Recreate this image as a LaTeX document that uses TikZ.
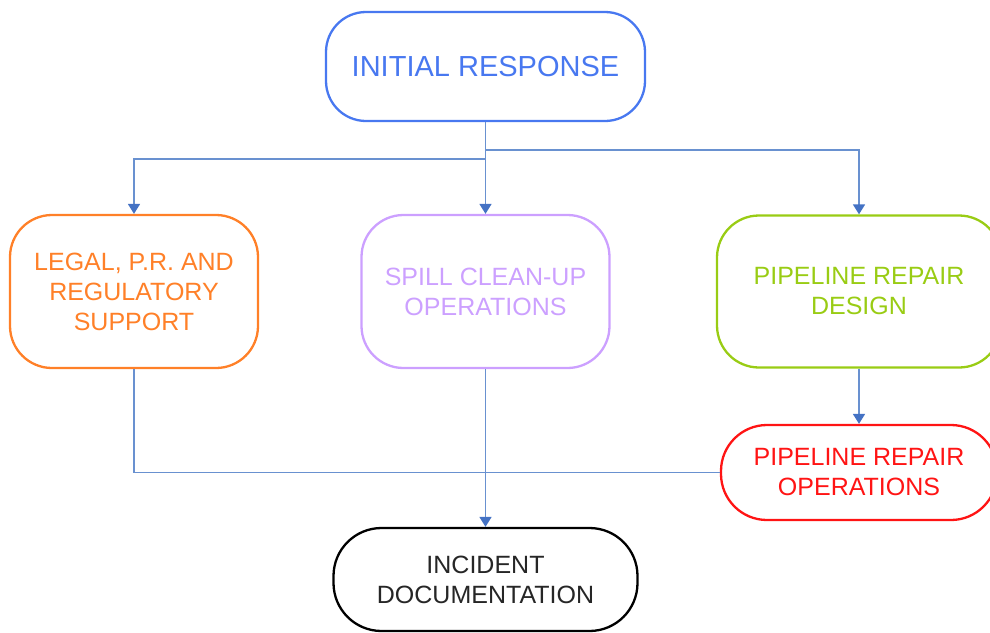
\documentclass[tikz,border=0pt]{standalone}
\usepackage{fontspec}
\setmainfont{Liberation Sans}
\usetikzlibrary{arrows.meta}
\definecolor{cblue}{RGB}{72,120,240}
\definecolor{corange}{RGB}{255,128,40}
\definecolor{clav}{RGB}{204,160,255}
\definecolor{cgreen}{RGB}{153,204,20}
\definecolor{cred}{RGB}{255,20,20}
\definecolor{cline}{RGB}{105,145,208}
\definecolor{ctip}{RGB}{68,114,196}
\tikzset{
  box/.style={draw, line width=2.3pt, rectangle, rounded corners=42pt, inner sep=0pt,
    align=center, font=\fontsize{25}{30}\selectfont},
  conn/.style={draw=cline, line width=1.7pt},
  arr/.style={conn, -{Triangle[width=12pt,length=10pt,color=ctip]}},
}
\begin{document}
\begin{tikzpicture}[x=1pt,y=-1pt]
\useasboundingbox (0,0) rectangle (990,632);
\clip (0,0) rectangle (990,632);
\node[box, draw=cblue, text=cblue, minimum width=319pt, minimum height=109pt, rounded corners=40pt,
  font=\fontsize{29}{34}\selectfont] (init) at (485.5,66.5) {INITIAL RESPONSE};
\node[box, draw=corange, text=corange, minimum width=248pt, minimum height=153pt] (legal) at (134,291.5)
  {LEGAL, P.R. AND\\REGULATORY\\SUPPORT};
\node[box, draw=clav, text=clav, minimum width=248pt, minimum height=153pt] (spill) at (485.5,291.5)
  {SPILL CLEAN-UP\\OPERATIONS};
\node[box, draw=cgreen, text=cgreen, minimum width=284pt, minimum height=152pt] (design) at (859,291.5)
  {PIPELINE REPAIR\\DESIGN};
\node[box, draw=cred, text=cred, minimum width=276pt, minimum height=95pt, rounded corners=46pt] (ops) at (859,472.5)
  {PIPELINE REPAIR\\OPERATIONS};
\node[box, draw=black, text=black!85, minimum width=304pt, minimum height=103pt, rounded corners=48pt] (inc) at (485.5,579.5)
  {INCIDENT\\DOCUMENTATION};
\coordinate (j1) at (485.5,159);
\coordinate (j2) at (485.5,150);
\draw[arr] (init.south) -- (spill.north);
\draw[arr] (j1) -| (legal.north);
\draw[arr] (j2) -| (design.north);
\draw[arr] (design.south) -- (ops.north);
\draw[conn] (legal.south) |- (ops.west);
\draw[arr] (spill.south) -- (inc.north);
\end{tikzpicture}
\end{document}
